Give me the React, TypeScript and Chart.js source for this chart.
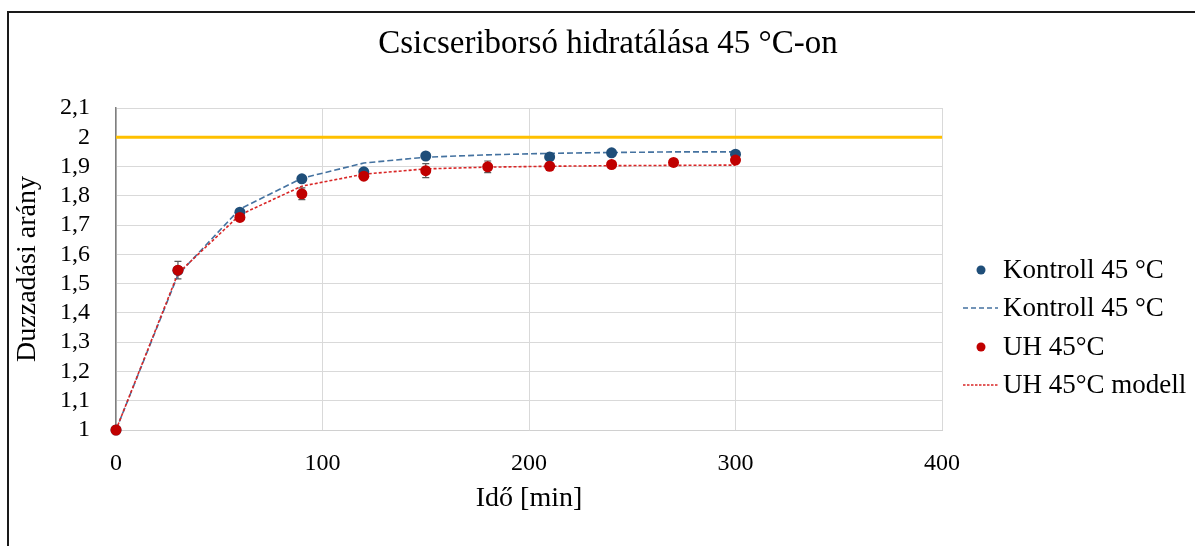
import React, { useEffect, useRef } from "react";
import { Chart, registerables } from "chart.js";

Chart.register(...registerables);

// ---- data ----
const titleText = "Csicseriborsó hidratálása 45 °C-on";
const xTitle = "Idő [min]";
const yTitle = "Duzzadási arány";

const modelTimes = [0, 30, 60, 90, 120, 150, 180, 210, 240, 270, 300];
const kontrollTimes = [0, 30, 60, 90, 120, 150, 210, 240, 300];
const kontrollValues = [1, 1.545, 1.744, 1.858, 1.882, 1.936, 1.933, 1.947, 1.942];
const kontrollModel = [1, 1.53, 1.755, 1.86, 1.912, 1.932, 1.94, 1.945, 1.948, 1.95, 1.95];

const uhTimes = [0, 30, 60, 90, 120, 150, 180, 210, 240, 270, 300];
const uhValues = [1, 1.546, 1.726, 1.807, 1.867, 1.886, 1.899, 1.901, 1.907, 1.914, 1.922];
const uhErrors = [0, 0.03, 0.01, 0.02, 0.008, 0.024, 0.02, 0.008, 0.006, 0.005, 0.008];
const uhModel = [1, 1.535, 1.735, 1.833, 1.874, 1.892, 1.898, 1.901, 1.903, 1.904, 1.905];

const targetX = [0, 400];
const targetY = [2, 2];

const legendLabels = ["Kontroll 45 °C", "Kontroll 45 °C", "UH 45°C", "UH 45°C modell"];

const FONT = "'Liberation Serif', 'Times New Roman', serif";
const BLUE = "#1F4E79";
const BLUE_LINE = "#4472A0";
const RED = "#C00000";
const RED_LINE = "#D92626";
const YELLOW = "#FFC000";

const errorBarPlugin = {
  id: "errorBars",
  beforeDatasetsDraw(chart: any) {
    const { ctx, scales } = chart;
    const x = scales.x;
    const y = scales.y;
    ctx.save();
    ctx.strokeStyle = "#595959";
    ctx.lineWidth = 1.2;
    uhTimes.forEach((t, i) => {
      const e = uhErrors[i];
      if (!e) return;
      const px = x.getPixelForValue(t);
      const top = y.getPixelForValue(uhValues[i] + e);
      const bot = y.getPixelForValue(uhValues[i] - e);
      ctx.beginPath();
      ctx.moveTo(px, top);
      ctx.lineTo(px, bot);
      ctx.moveTo(px - 3.5, top);
      ctx.lineTo(px + 3.5, top);
      ctx.moveTo(px - 3.5, bot);
      ctx.lineTo(px + 3.5, bot);
      ctx.stroke();
    });
    ctx.restore();
  },
};

const legendPlugin = {
  id: "customLegend",
  afterDraw(chart: any) {
    const { ctx, chartArea } = chart;
    const x0 = chartArea.right;
    const rows = [270, 308, 347, 385];
    ctx.save();
    ctx.font = `27px ${FONT}`;
    ctx.fillStyle = "#000";
    ctx.textBaseline = "middle";
    ctx.textAlign = "left";
    rows.forEach((ry, i) => {
      const markX = x0 + 39;
      if (i === 0 || i === 2) {
        ctx.beginPath();
        ctx.fillStyle = i === 0 ? BLUE : RED;
        ctx.arc(markX, ry, 4.5, 0, Math.PI * 2);
        ctx.fill();
      } else {
        ctx.beginPath();
        ctx.strokeStyle = i === 1 ? BLUE_LINE : RED_LINE;
        ctx.lineWidth = 1.5;
        ctx.setLineDash(i === 1 ? [5, 3] : [2.5, 1.5]);
        ctx.moveTo(x0 + 21, ry);
        ctx.lineTo(x0 + 56, ry);
        ctx.stroke();
        ctx.setLineDash([]);
      }
      ctx.fillStyle = "#000";
      ctx.fillText(legendLabels[i], x0 + 61, ry + 1);
    });
    ctx.restore();
  },
};

export default function App() {
  const canvasRef = useRef<HTMLCanvasElement | null>(null);

  useEffect(() => {
    if (!canvasRef.current) return;
    Chart.defaults.color = "#000";
    const chart = new Chart(canvasRef.current, {
      type: "scatter",
      data: {
        datasets: [
          {
            label: "UH 45°C",
            data: uhTimes.map((t, i) => ({ x: t, y: uhValues[i] })),
            backgroundColor: RED,
            borderColor: RED,
            pointRadius: 5.5,
            pointBorderWidth: 0,
            showLine: false,
            clip: false,
            order: 0,
          },
          {
            label: "Kontroll 45 °C",
            data: kontrollTimes.map((t, i) => ({ x: t, y: kontrollValues[i] })),
            backgroundColor: BLUE,
            borderColor: BLUE,
            pointRadius: 5.5,
            pointBorderWidth: 0,
            showLine: false,
            clip: false,
            order: 1,
          },
          {
            label: "UH 45°C modell",
            data: modelTimes.map((t, i) => ({ x: t, y: uhModel[i] })),
            borderColor: RED_LINE,
            borderWidth: 1.6,
            borderDash: [3, 2],
            pointRadius: 0,
            showLine: true,
            fill: false,
            order: 2,
          },
          {
            label: "Kontroll 45 °C model",
            data: modelTimes.map((t, i) => ({ x: t, y: kontrollModel[i] })),
            borderColor: BLUE_LINE,
            borderWidth: 1.6,
            borderDash: [6, 3],
            pointRadius: 0,
            showLine: true,
            fill: false,
            order: 3,
          },
          {
            label: "2",
            data: targetX.map((t, i) => ({ x: t, y: targetY[i] })),
            borderColor: YELLOW,
            borderWidth: 3,
            pointRadius: 0,
            showLine: true,
            fill: false,
            order: 4,
          },
        ],
      },
      options: {
        animation: false,
        responsive: false,
        devicePixelRatio: 1,
        layout: { padding: { left: 21, right: 0, top: 0, bottom: 0 } },
        plugins: {
          legend: { display: false },
          tooltip: { enabled: false },
          title: {
            display: true,
            text: titleText,
            color: "#000",
            font: { family: FONT, size: 33, weight: "normal", lineHeight: 1.2 },
            padding: { top: 24.7, bottom: 43.7 },
          },
        },
        scales: {
          x: {
            type: "linear",
            min: 0,
            max: 400,
            ticks: {
              stepSize: 100,
              padding: 19,
              font: { family: FONT, size: 24 },
              color: "#000",
              maxRotation: 0,
            },
            grid: { color: "#D9D9D9", lineWidth: 1, drawTicks: false },
            border: { color: "#D0D0D0", width: 1 },
            title: {
              display: true,
              text: xTitle,
              color: "#000",
              font: { family: FONT, size: 28, lineHeight: 1.2 },
              padding: { top: 0, bottom: 31 },
            },
            afterFit: (s: any) => {
              s.height = 116;
            },
          },
          y: {
            type: "linear",
            min: 1,
            max: 2.1,
            ticks: {
              stepSize: 0.1,
              autoSkip: false,
              padding: 26,
              font: { family: FONT, size: 24 },
              color: "#000",
              callback: (v: any) => String(Math.round(Number(v) * 10) / 10).replace(".", ","),
            },
            grid: { color: "#D9D9D9", lineWidth: 1, drawTicks: false },
            border: { color: "#7F7F7F", width: 1.5 },
            title: {
              display: true,
              text: yTitle,
              color: "#000",
              font: { family: FONT, size: 28, lineHeight: 1.2 },
              padding: { top: -10, bottom: 0 },
            },
            afterFit: (s: any) => {
              s.width = 95;
            },
          },
          yR: {
            type: "linear",
            position: "right",
            display: true,
            grid: { display: false },
            border: { display: false },
            ticks: { display: false },
            afterFit: (s: any) => {
              s.width = 253;
            },
          },
        },
      },
      plugins: [errorBarPlugin, legendPlugin],
    } as any);
    return () => chart.destroy();
  }, []);

  return (
    <div
      style={{
        position: "fixed",
        left: 0,
        top: 0,
        width: 1195,
        height: 546,
        overflow: "hidden",
        background: "#fff",
      }}
    >
      <div
        style={{
          position: "absolute",
          left: 7,
          top: 11,
          width: 1300,
          height: 700,
          border: "2px solid #1a1a1a",
          boxSizing: "border-box",
        }}
      />
      <canvas
        ref={canvasRef}
        width={1195}
        height={546}
        style={{ position: "absolute", left: 0, top: 0, width: 1195, height: 546 }}
      />
    </div>
  );
}
